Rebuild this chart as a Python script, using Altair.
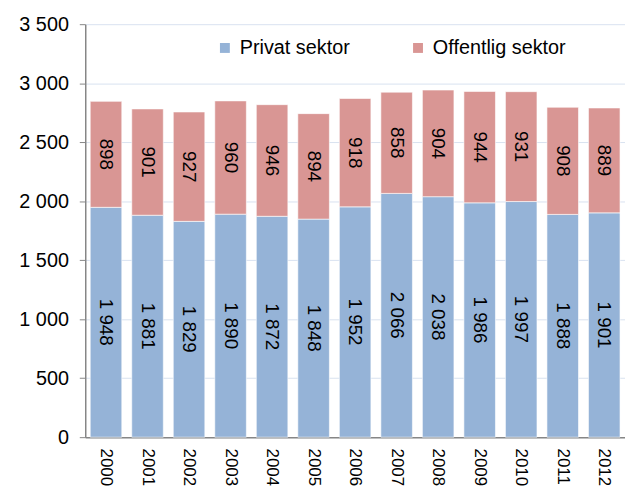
import altair as alt
import pandas as pd

years = [str(y) for y in range(2000, 2013)]
privat = [1948, 1881, 1829, 1890, 1872, 1848, 1952, 2066, 2038, 1986, 1997, 1888, 1901]
offentlig = [898, 901, 927, 960, 946, 894, 918, 858, 904, 944, 931, 908, 889]
series = ["Privat sektor", "Offentlig sektor"]
colors = ["#95B3D7", "#D99694"]

rows = []
for i, y in enumerate(years):
    rows.append({"year": y, "sector": series[0], "value": privat[i], "ord": 0})
    rows.append({"year": y, "sector": series[1], "value": offentlig[i], "ord": 1})
df = pd.DataFrame(rows)

font = "Liberation Sans"
fmt = "replace(format(datum.value, ','), ',', ' ')"

base = alt.Chart(df).transform_stack(
    stack="value", groupby=["year"], as_=["v0", "v1"], sort=[alt.SortField("ord", order="ascending")]
).transform_calculate(
    mid="(datum.v0 + datum.v1) / 2", lbl=fmt
)

x_enc = alt.X("year:N", title=None,
              scale=alt.Scale(paddingInner=0.24, paddingOuter=0.12),
              axis=alt.Axis(labelAngle=90, labelFont=font, labelFontSize=17, labelColor="black",
                            ticks=False, domainColor="#868686", domainWidth=1.5, labelPadding=11,
                            labelBaseline="middle", labelAlign="left"))

bars = base.mark_bar(stroke="white", strokeWidth=0.6).encode(
    x=x_enc,
    y=alt.Y("v0:Q", title=None,
            scale=alt.Scale(domain=[0, 3500], nice=False),
            axis=alt.Axis(values=list(range(0, 3501, 500)), labelExpr=fmt,
                          labelFont=font, labelFontSize=20, labelColor="black",
                          tickSize=6, tickColor="#868686", domainColor="#868686", domainWidth=1.5,
                          gridColor="#D9E2F0", gridWidth=1, labelPadding=11)),
    y2="v1:Q",
    color=alt.Color("sector:N", scale=alt.Scale(domain=series, range=colors),
                    sort=series,
                    legend=alt.Legend(title=None, orient="none", legendX=131, legendY=14,
                                      direction="horizontal", symbolType="square", symbolSize=100,
                                      symbolStrokeWidth=0, labelFont=font, labelFontSize=20,
                                      labelColor="black", columnPadding=58, symbolOffset=0,
                                      labelOffset=5)),
)

texts = base.mark_text(angle=90, font=font, fontSize=19, color="black", baseline="middle", align="center").encode(
    x=alt.X("year:N"),
    y=alt.Y("mid:Q"),
    text="lbl:N",
)

chart = alt.layer(bars, texts).properties(
    width=545, height=417,
    autosize=alt.AutoSizeParams(type="none"),
    padding={"left": 78, "top": 14, "right": 0, "bottom": 52},
).configure_view(stroke=None)

chart.save("out.html", embed_options={"renderer": "svg", "actions": False})
